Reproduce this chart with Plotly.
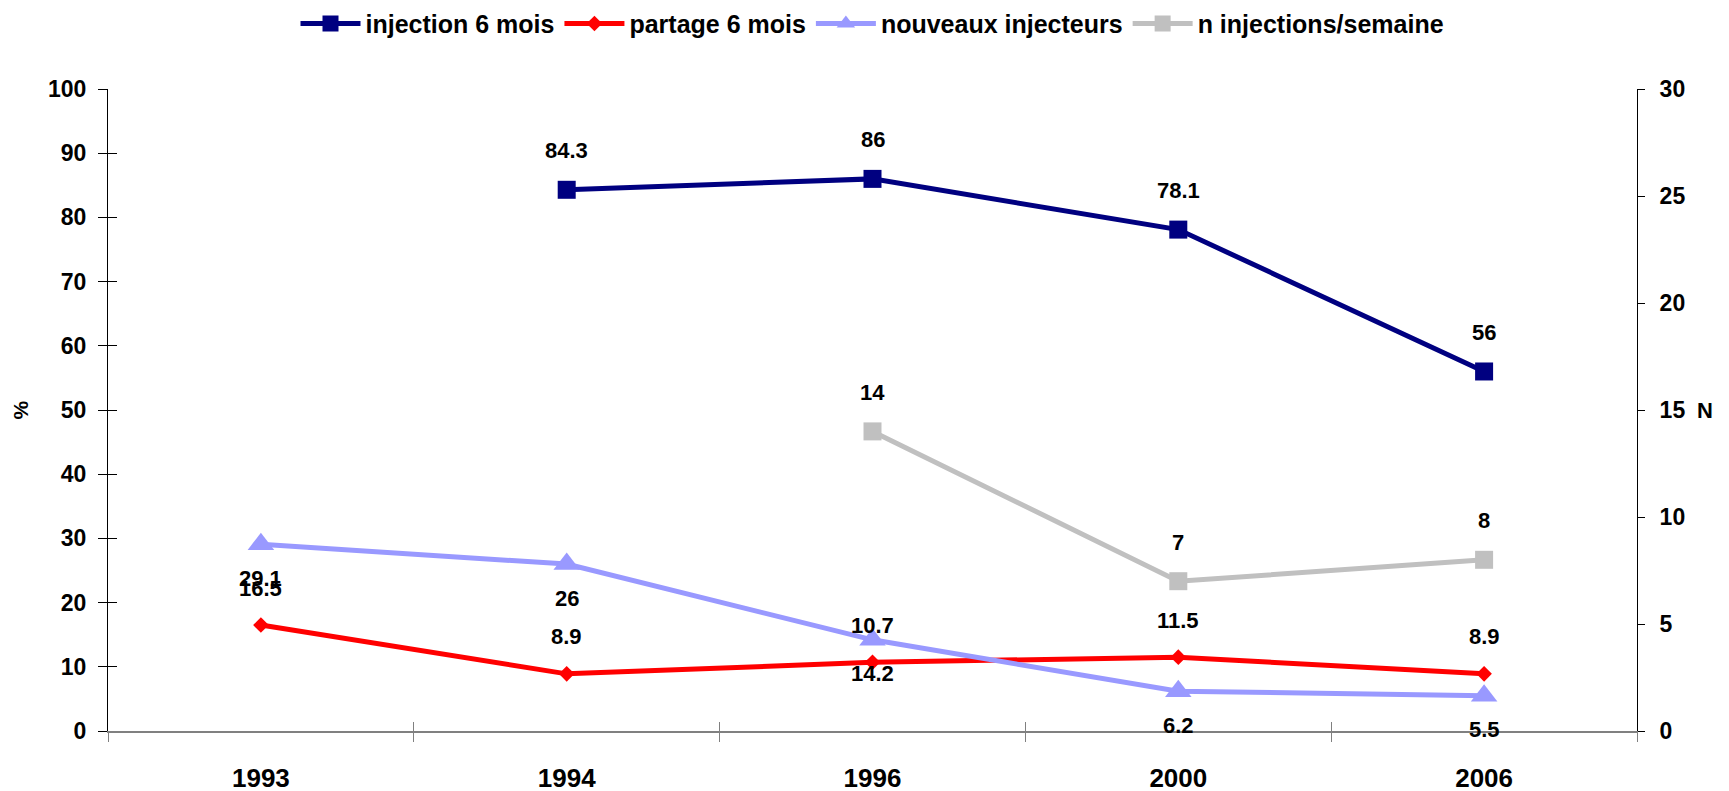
import plotly.graph_objects as go

# categories on the x axis
years = ["1993", "1994", "1996", "2000", "2006"]

# left axis series (%)
injection_6_mois = [None, 84.3, 86, 78.1, 56]
partage_6_mois = [16.5, 8.9, 10.7, 11.5, 8.9]
nouveaux_injecteurs = [29.1, 26, 14.2, 6.2, 5.5]
# right axis series (N)
n_injections_semaine = [None, None, 14, 7, 8]

left_ticks = list(range(0, 101, 10))
right_ticks = list(range(0, 31, 5))

NARROW = "Liberation Sans Narrow, Arial Narrow, Liberation Sans, Arial, sans-serif"
WIDE = "Liberation Sans, Arial, sans-serif"

series = [
    # name, values, color, symbol, size, line width, axis, label shift
    ("injection 6 mois", injection_6_mois, "#000080", "square", 18, 5, "y", 39),
    ("partage 6 mois", partage_6_mois, "#FF0000", "diamond", 12, 5, "y", 37),
    ("nouveaux injecteurs", nouveaux_injecteurs, "#9999FF", "triangle-up", 23, 5, "y", -34),
    ("n injections/semaine", n_injections_semaine, "#C0C0C0", "square", 18, 5, "y2", 39),
]

fig = go.Figure()
annotations = []
for name, vals, color, symbol, size, width, axis, shift in series:
    fig.add_trace(go.Scatter(
        x=years, y=vals, name=name, yaxis=axis,
        mode="lines+markers",
        line=dict(color=color, width=width),
        marker=dict(color=color, symbol=symbol, size=size),
        connectgaps=False,
    ))
    for i, v in enumerate(vals):
        if v is None:
            continue
        annotations.append(dict(
            x=i, y=v, xref="x", yref=axis, text=f"<b>{v:g}</b>",
            showarrow=False, yshift=shift,
            font=dict(family=NARROW, size=22, color="#000000"),
        ))

# empty trace so the crossing-tick overlay axes get drawn
fig.add_trace(go.Scatter(x=[], y=[], xaxis="x2", yaxis="y3", showlegend=False, hoverinfo="skip"))

# axis titles
annotations.append(dict(
    x=0, y=0.5, xref="paper", yref="paper", xshift=-102, text="<b>%</b>",
    textangle=-90, showarrow=False,
    font=dict(family=WIDE, size=21, color="#000000"),
))
annotations.append(dict(
    x=1, y=0.5, xref="paper", yref="paper", xshift=78, text="<b>N</b>",
    showarrow=False,
    font=dict(family=WIDE, size=22, color="#000000"),
))

tick_font_y = dict(family=WIDE, size=23, color="#000000", weight="bold")

fig.update_layout(
    width=1729, height=791,
    paper_bgcolor="#ffffff", plot_bgcolor="#ffffff",
    margin=dict(l=100, r=100, t=81, b=68, autoexpand=False),
    showlegend=True,
    legend=dict(
        orientation="h", x=0.5, xanchor="center",
        yref="container", y=0.98, yanchor="middle",
        font=dict(family=NARROW, size=25, color="#000000", weight="bold"),
        itemwidth=60, tracegroupgap=0,
    ),
    xaxis=dict(
        type="category", categoryarray=years, categoryorder="array",
        range=[-0.5, 4.5],
        showline=True, linecolor="#808080", linewidth=2,
        ticks="outside", tickson="boundaries", ticklen=9, tickcolor="#808080",
        showgrid=False, zeroline=False,
        ticklabelstandoff=23,
        tickfont=dict(family=NARROW, size=26, color="#000000", weight="bold"),
    ),
    xaxis2=dict(
        overlaying="x", anchor="y", side="bottom",
        range=[-0.5, 4.5], tickvals=[0.5, 1.5, 2.5, 3.5],
        ticks="inside", ticklen=9, tickcolor="#808080",
        showticklabels=False, showline=False, showgrid=False, zeroline=False,
    ),
    yaxis=dict(
        range=[0, 100], tickvals=left_ticks,
        showline=True, linecolor="#000000", linewidth=1,
        ticks="outside", ticklen=9, tickcolor="#000000",
        showgrid=False, zeroline=False,
        ticklabelstandoff=7,
        tickfont=tick_font_y,
    ),
    yaxis2=dict(
        range=[0, 30], tickvals=right_ticks,
        overlaying="y", side="right", anchor="x",
        showline=True, linecolor="#000000", linewidth=1,
        ticks="outside", ticklen=7, tickcolor="#000000",
        showgrid=False, zeroline=False,
        ticklabelstandoff=10,
        tickfont=tick_font_y,
    ),
    yaxis3=dict(
        range=[0, 100], tickvals=left_ticks, overlaying="y", side="left", anchor="x2",
        ticks="inside", ticklen=9, tickcolor="#000000",
        showticklabels=False, showline=False, showgrid=False, zeroline=False,
    ),
    annotations=annotations,
)

fig.write_html("out.html")
